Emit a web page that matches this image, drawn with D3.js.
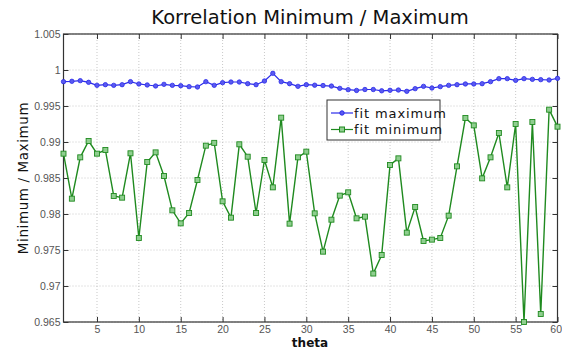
<!DOCTYPE html>
<html>
<head>
<meta charset="utf-8">
<script src="https://cdn.jsdelivr.net/npm/d3@7"></script>
<style>
  body { margin: 0; background: #fff; }
  svg { display: block; font-family: "DejaVu Sans", sans-serif; }
</style>
</head>
<body>
<svg id="chart" width="562" height="350"></svg>
<script>
// theta 1..60
const theta = d3.range(1, 61);

const fitMaximum = [
  0.99838, 0.99843, 0.99852, 0.99829, 0.99787, 0.99796, 0.99787, 0.99796, 0.99838, 0.99806,
  0.99792, 0.99778, 0.99801, 0.99787, 0.99782, 0.99769, 0.99764, 0.99838, 0.99787, 0.99824,
  0.99833, 0.99833, 0.99810, 0.99796, 0.99847, 0.99954, 0.99838, 0.99810, 0.99773, 0.99796,
  0.99789, 0.99784, 0.99777, 0.99745, 0.99727, 0.99716, 0.99729, 0.99729, 0.99711, 0.99718,
  0.99722, 0.99704, 0.99741, 0.99773, 0.99750, 0.99769, 0.99787, 0.99796, 0.99806, 0.99806,
  0.99810, 0.99838, 0.99880, 0.99880, 0.99856, 0.99880, 0.99870, 0.99866, 0.99861, 0.99884
];

const fitMinimum = [
  0.98838, 0.98213, 0.98787, 0.99014, 0.98838, 0.98889, 0.98250, 0.98227, 0.98843, 0.97667,
  0.98722, 0.98856, 0.98528, 0.98051, 0.97870, 0.98014, 0.98472, 0.98949, 0.98988, 0.98176,
  0.97949, 0.98968, 0.98796, 0.98014, 0.98750, 0.98370, 0.99338, 0.97866, 0.98787, 0.98866,
  0.98009, 0.97477, 0.97921, 0.98255, 0.98301, 0.97940, 0.97963, 0.97173, 0.97431, 0.98681,
  0.98773, 0.97741, 0.98097, 0.97625, 0.97644, 0.97667, 0.97977, 0.98662, 0.99333, 0.99231,
  0.98495, 0.98787, 0.99125, 0.98370, 0.99250, 0.96500, 0.99278, 0.96611, 0.99449, 0.99213
];

const xTicks = [5, 10, 15, 20, 25, 30, 35, 40, 45, 50, 55, 60];
const yTicks = [0.965, 0.97, 0.975, 0.98, 0.985, 0.99, 0.995, 1, 1.005];
const yTickLabels = ["0.965", "0.97", "0.975", "0.98", "0.985", "0.99", "0.995", "1", "1.005"];

const svg = d3.select("#chart");
const plotL = 63.5, plotR = 557.5, plotT = 34, plotB = 322;

const x = d3.scaleLinear().domain([1, 60]).range([plotL, plotR]);
const y = d3.scaleLinear().domain([0.965, 1.005]).range([plotB, plotT]);

// grid
const grid = svg.append("g").attr("stroke", "#bbb").attr("stroke-width", 0.8).attr("stroke-dasharray", "1,2");
grid.selectAll(".gx").data(xTicks).join("line")
  .attr("x1", d => x(d)).attr("x2", d => x(d)).attr("y1", plotT).attr("y2", plotB);
grid.selectAll(".gy").data(yTicks).join("line")
  .attr("x1", plotL).attr("x2", plotR).attr("y1", d => y(d)).attr("y2", d => y(d));

// axes (matlab style, ticks inside)
const tickFmt = d => yTickLabels[yTicks.indexOf(d)];
const axB = svg.append("g").attr("transform", `translate(0,${plotB})`)
  .call(d3.axisBottom(x).tickValues(xTicks).tickSizeInner(-5).tickSizeOuter(0).tickPadding(4));
const axT = svg.append("g").attr("transform", `translate(0,${plotT})`)
  .call(d3.axisTop(x).tickValues(xTicks).tickSizeInner(-5).tickSizeOuter(0).tickFormat(""));
const axL = svg.append("g").attr("transform", `translate(${plotL},0)`)
  .call(d3.axisLeft(y).tickValues(yTicks).tickSizeInner(-5).tickSizeOuter(0).tickPadding(3).tickFormat(tickFmt));
const axR = svg.append("g").attr("transform", `translate(${plotR},0)`)
  .call(d3.axisRight(y).tickValues(yTicks).tickSizeInner(-5).tickSizeOuter(0).tickFormat(""));

[axB, axT, axL, axR].forEach(a => {
  a.select(".domain").remove();
  a.selectAll(".tick line").attr("stroke", "#333");
  a.selectAll(".tick text").attr("fill", "#555").attr("font-size", 10.5);
});
// last x label sits at the window edge; keep it inside
axB.selectAll(".tick text").filter(d => d === 60).attr("text-anchor", "end").attr("dx", 4);

svg.append("rect").attr("x", plotL).attr("y", plotT).attr("width", plotR - plotL).attr("height", plotB - plotT)
  .attr("fill", "none").attr("stroke", "#333").attr("stroke-width", 1.2);

// series
const maxData = theta.map((t, i) => [t, fitMaximum[i]]);
const minData = theta.map((t, i) => [t, fitMinimum[i]]);
const line = d3.line().x(d => x(d[0])).y(d => y(d[1]));

const blue = "#2b2bea", green = "#1f8a1f";

svg.append("path").datum(maxData).attr("d", line).attr("fill", "none").attr("stroke", blue).attr("stroke-width", 1.2);
svg.append("g").selectAll("circle").data(maxData).join("circle")
  .attr("cx", d => x(d[0])).attr("cy", d => y(d[1])).attr("r", 2.2)
  .attr("fill", "#5a5af0").attr("stroke", blue).attr("stroke-width", 0.8);

svg.append("path").datum(minData).attr("d", line).attr("fill", "none").attr("stroke", green).attr("stroke-width", 1.4);
svg.append("g").selectAll("rect").data(minData).join("rect")
  .attr("x", d => x(d[0]) - 2.5).attr("y", d => y(d[1]) - 2.5).attr("width", 5).attr("height", 5)
  .attr("fill", "#8fce8f").attr("stroke", green).attr("stroke-width", 0.9);

// legend
const lg = svg.append("g").attr("transform", "translate(327,100)");
lg.append("rect").attr("width", 113).attr("height", 40).attr("fill", "#fff").attr("stroke", "#333").attr("stroke-width", 1);
const legendItems = [
  { label: "fit maximum", color: blue, shape: "circle" },
  { label: "fit minimum", color: green, shape: "square" }
];
legendItems.forEach((it, i) => {
  const cy = 13 + i * 16.5;
  lg.append("line").attr("x1", 4).attr("x2", 26).attr("y1", cy).attr("y2", cy)
    .attr("stroke", it.color).attr("stroke-width", 1.2);
  if (it.shape === "circle") {
    lg.append("circle").attr("cx", 15).attr("cy", cy).attr("r", 2.2).attr("fill", "#5a5af0").attr("stroke", blue);
  } else {
    lg.append("rect").attr("x", 12.5).attr("y", cy - 2.5).attr("width", 5).attr("height", 5)
      .attr("fill", "#8fce8f").attr("stroke", green);
  }
  lg.append("text").attr("x", 27).attr("y", cy + 4.5).attr("font-size", 13).attr("letter-spacing", 0.9)
    .attr("fill", "#111").text(it.label);
});

// titles
svg.append("text").attr("x", 310).attr("y", 24).attr("text-anchor", "middle")
  .attr("font-size", 19.5).attr("fill", "#111").text("Korrelation Minimum / Maximum");
svg.append("text").attr("x", 310).attr("y", 347).attr("text-anchor", "middle")
  .attr("font-size", 12).attr("font-weight", "bold").attr("fill", "#111").text("theta");
svg.append("text").attr("transform", "translate(28,178) rotate(-90)").attr("text-anchor", "middle")
  .attr("font-size", 13.5).attr("letter-spacing", 0.6).attr("fill", "#111").text("Minimum / Maximum");
</script>
</body>
</html>
